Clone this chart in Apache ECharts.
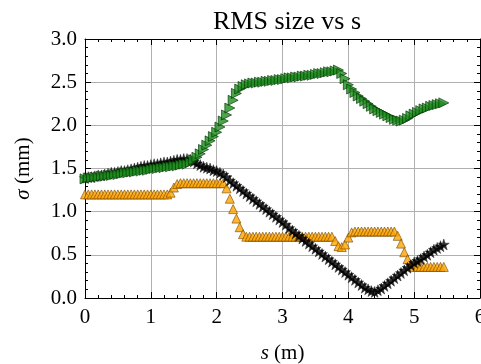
<!DOCTYPE html>
<html>
<head>
<meta charset="utf-8">
<script src="https://cdn.jsdelivr.net/npm/echarts@6/dist/echarts.min.js"></script>
<style>html,body{margin:0;padding:0;background:#fff;}#c{width:481px;height:364px;}</style>
</head>
<body>
<div id="c"></div>
<script>
const titleText = 'RMS size vs s';
const xTicks = [0, 1, 2, 3, 4, 5, 6];
const yTicks = [0.0, 0.5, 1.0, 1.5, 2.0, 2.5, 3.0];
const sPos = [0.00,0.05,0.10,0.15,0.20,0.25,0.30,0.35,0.40,0.45,0.50,0.55,0.60,0.65,0.70,0.75,0.80,0.85,0.90,0.95,
1.00,1.05,1.10,1.15,1.20,1.25,1.30,1.35,1.40,1.45,1.50,1.55,1.60,1.65,1.70,1.75,1.80,1.85,1.90,1.95,
2.00,2.05,2.10,2.15,2.20,2.25,2.30,2.35,2.40,2.45,2.50,2.55,2.60,2.65,2.70,2.75,2.80,2.85,2.90,2.95,
3.00,3.05,3.10,3.15,3.20,3.25,3.30,3.35,3.40,3.45,3.50,3.55,3.60,3.65,3.70,3.75,3.80,3.85,3.90,3.95,
4.00,4.05,4.10,4.15,4.20,4.25,4.30,4.35,4.40,4.45,4.50,4.55,4.60,4.65,4.70,4.75,4.80,4.85,4.90,4.95,
5.00,5.05,5.10,5.15,5.20,5.25,5.30,5.35,5.40,5.45];
const sigmaGreen = [1.38,1.39,1.39,1.40,1.40,1.41,1.41,1.42,1.42,1.43,1.43,1.44,1.45,1.45,1.46,1.46,1.47,1.47,1.48,1.48,
1.49,1.50,1.50,1.51,1.51,1.52,1.52,1.53,1.53,1.54,1.55,1.55,1.57,1.60,1.63,1.67,1.72,1.77,1.82,1.87,
1.92,1.98,2.05,2.12,2.20,2.29,2.37,2.42,2.45,2.47,2.48,2.49,2.49,2.50,2.50,2.51,2.51,2.52,2.52,2.53,
2.53,2.54,2.55,2.55,2.56,2.56,2.57,2.57,2.58,2.58,2.59,2.60,2.60,2.61,2.62,2.62,2.63,2.64,2.60,2.54,
2.47,2.42,2.38,2.34,2.31,2.28,2.25,2.22,2.19,2.17,2.15,2.13,2.11,2.09,2.07,2.06,2.05,2.06,2.08,2.11,
2.13,2.15,2.17,2.19,2.20,2.22,2.23,2.24,2.25,2.26];
const sigmaBlack = [1.39,1.40,1.40,1.41,1.42,1.42,1.43,1.44,1.45,1.45,1.46,1.47,1.47,1.48,1.49,1.50,1.51,1.52,1.53,1.53,
1.54,1.55,1.55,1.56,1.57,1.57,1.58,1.59,1.60,1.60,1.61,1.61,1.60,1.58,1.56,1.54,1.52,1.51,1.50,1.48,
1.47,1.45,1.43,1.40,1.36,1.33,1.30,1.27,1.24,1.21,1.18,1.15,1.12,1.09,1.06,1.03,1.00,0.97,0.94,0.91,
0.88,0.85,0.81,0.78,0.75,0.72,0.69,0.66,0.63,0.60,0.57,0.54,0.51,0.48,0.45,0.42,0.39,0.36,0.33,0.30,
0.27,0.24,0.21,0.18,0.15,0.12,0.10,0.08,0.07,0.09,0.11,0.14,0.17,0.20,0.23,0.26,0.29,0.32,0.35,0.38,
0.41,0.43,0.45,0.48,0.50,0.53,0.56,0.58,0.60,0.62];
const sigmaOrange = [1.20,1.20,1.20,1.20,1.20,1.20,1.20,1.20,1.20,1.20,1.20,1.20,1.20,1.20,1.20,1.20,1.20,1.20,1.20,1.20,
1.20,1.20,1.20,1.20,1.20,1.20,1.22,1.28,1.32,1.33,1.33,1.33,1.33,1.33,1.33,1.33,1.33,1.33,1.33,1.33,
1.33,1.33,1.33,1.27,1.15,1.03,0.92,0.82,0.74,0.71,0.71,0.71,0.71,0.71,0.71,0.71,0.71,0.71,0.71,0.71,
0.71,0.71,0.71,0.71,0.71,0.71,0.71,0.71,0.71,0.71,0.71,0.71,0.71,0.71,0.71,0.71,0.66,0.60,0.59,0.62,
0.70,0.76,0.77,0.77,0.77,0.77,0.77,0.77,0.77,0.77,0.77,0.77,0.77,0.77,0.77,0.72,0.63,0.53,0.45,0.39,
0.36,0.36,0.36,0.36,0.36,0.36,0.36,0.36,0.36,0.36];

const FONT = '"Liberation Serif", "Times New Roman", serif';
const FS = 21;
const pair = (ys) => sPos.map((s, i) => [s, ys[i]]);
const STAR = 'path://M50,0 L61.2,34.5 L97.6,34.5 L68.2,55.9 L79.4,90.5 L50,69.1 L20.6,90.5 L31.8,55.9 L2.4,34.5 L38.8,34.5 Z';
const TRI_RIGHT = 'path://M0,0 L10,5 L0,10 Z';

const baseAxis = {
  axisLine: { show: true, onZero: false, lineStyle: { color: '#000', width: 1 } },
  axisTick: { show: true, inside: true, length: 6, lineStyle: { color: '#000', width: 1 } },
  minorTick: { show: true, splitNumber: 5, length: 3, lineStyle: { color: '#000', width: 1 } },
};

const chart = echarts.init(document.getElementById('c'), null, { renderer: 'canvas' });
chart.setOption({
  animation: false,
  backgroundColor: '#fff',
  title: {
    text: titleText, left: 282, top: 4, textAlign: 'center',
    textStyle: { fontFamily: FONT, fontSize: 26, fontWeight: 'normal', color: '#000' }
  },
  grid: { left: 85, right: 1, top: 39, bottom: 66, containLabel: false, outerBoundsMode: 'none' },
  xAxis: [
    Object.assign({}, baseAxis, {
      type: 'value', min: xTicks[0], max: xTicks[xTicks.length - 1], interval: 1, position: 'bottom',
      axisLabel: { fontFamily: FONT, fontSize: FS, color: '#000', margin: 9, formatter: v => String(v) },
      splitLine: { show: true, lineStyle: { color: '#b0b0b0', width: 1 } },
      name: '{i|s} (m)', nameLocation: 'middle', nameGap: 45,
      nameTextStyle: { fontFamily: FONT, fontSize: FS, color: '#000', rich: { i: { fontFamily: FONT, fontSize: FS, fontStyle: 'italic', color: '#000' } } }
    }),
    Object.assign({}, baseAxis, {
      type: 'value', min: 0, max: 6, interval: 1, position: 'top',
      axisLabel: { show: false }, splitLine: { show: false }
    })
  ],
  yAxis: [
    Object.assign({}, baseAxis, {
      type: 'value', min: yTicks[0], max: yTicks[yTicks.length - 1], interval: 0.5, position: 'left',
      axisLabel: { fontFamily: FONT, fontSize: FS, color: '#000', margin: 8, formatter: v => v.toFixed(1) },
      splitLine: { show: true, lineStyle: { color: '#b0b0b0', width: 1 } },
      name: '{i|σ} (mm)', nameLocation: 'middle', nameGap: 51, nameRotate: 90,
      nameTextStyle: { fontFamily: FONT, fontSize: FS, color: '#000', rich: { i: { fontFamily: FONT, fontSize: FS, fontStyle: 'italic', color: '#000' } } }
    }),
    Object.assign({}, baseAxis, {
      type: 'value', min: 0, max: 3, interval: 0.5, position: 'right',
      axisLabel: { show: false }, splitLine: { show: false }
    })
  ],
  series: [
    {
      name: 'orange', type: 'scatter', data: pair(sigmaOrange), symbol: 'triangle', symbolSize: 9,
      itemStyle: { color: '#ffa500', borderColor: '#7a4a00', borderWidth: 0.8 }
    },
    {
      name: 'black', type: 'scatter', data: pair(sigmaBlack), symbol: STAR, symbolSize: 11,
      itemStyle: { color: '#000', borderColor: '#000', borderWidth: 0.5 }
    },
    {
      name: 'green', type: 'scatter', data: pair(sigmaGreen), symbol: TRI_RIGHT, symbolSize: 10,
      itemStyle: { color: '#1f8f1f', borderColor: '#003300', borderWidth: 0.8 }
    }
  ]
});
</script>
</body>
</html>
